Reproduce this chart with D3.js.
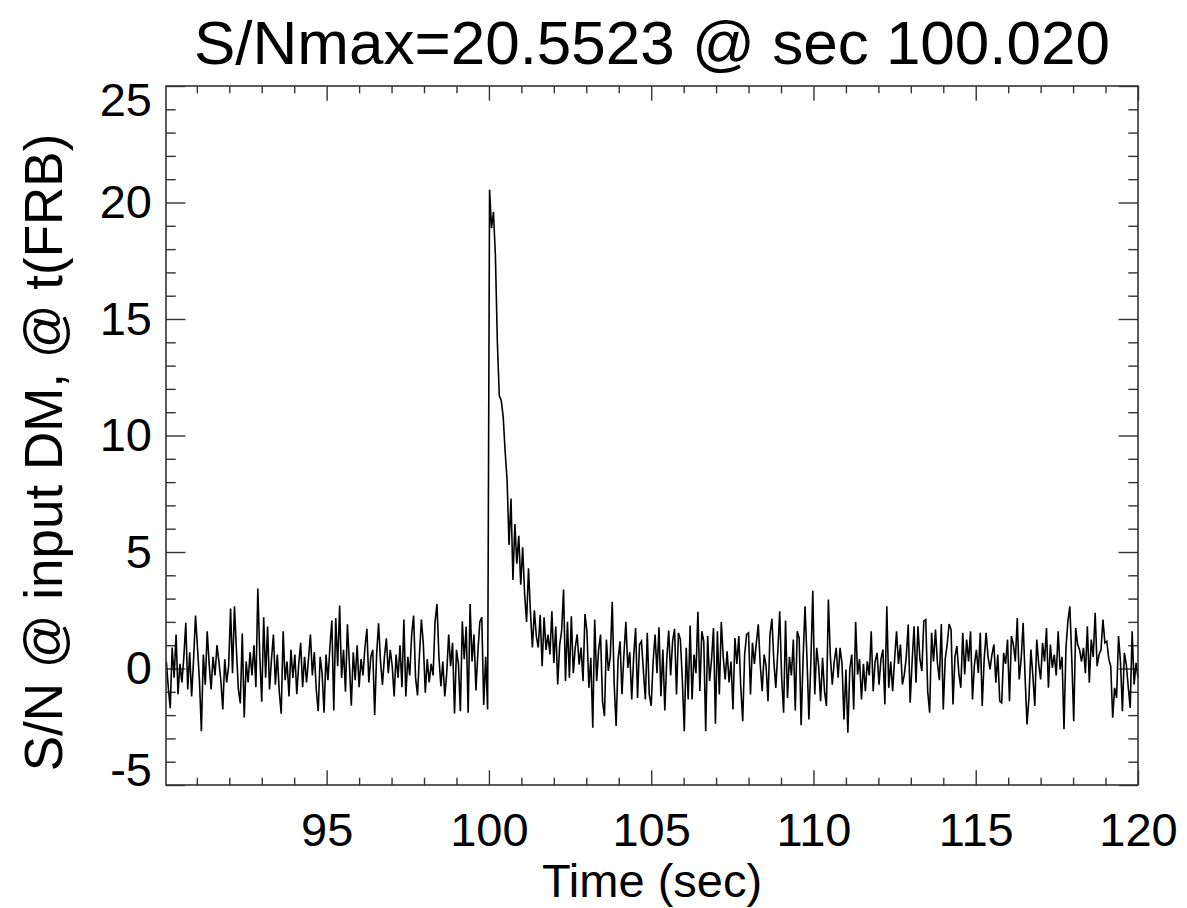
<!DOCTYPE html>
<html>
<head>
<meta charset="utf-8">
<script src="https://cdn.jsdelivr.net/npm/d3@7"></script>
<style>
  body { margin: 0; background: #fff; }
  svg { font-family: "Liberation Sans", Arial, Helvetica, sans-serif; }
</style>
</head>
<body>
<div id="plot"></div>
<script>
// Set up dimensions
const width = 1187;
const height = 908;
const margin = {top: 86, right: 49, bottom: 123, left: 166};

// Data: S/N time series, regular sampling
const t0 = 90.06;
const dt = 0.06;
const snr = [
  0.3, -0.8, -1.7, 0.9, -0.4, 1.46, -1.1, 0.2, -0.6, 0.5,
  1.96, -0.9, 0.7, -1.2, 0.4, 2.27, 0.9, -0.5, -2.69, 0.6,
  -0.7, 1.6, 0.2, -0.9, 0.5, -0.3, 1.0, 0.3, -0.5, -1.76,
  0.4, -0.6, 0.1, 2.57, -0.2, 2.67, 0.8, -0.9, -1.5, 1.5,
  -2.1, 0.3, -0.6, 0.7, -0.3, 1.0, -0.8, 3.43, 0.5, -1.43,
  2.2, -0.4, 1.8, -0.9, 0.4, 1.46, -0.7, 0.6, -1.0, -1.94,
  1.6, -0.5, 0.3, -1.2, 0.8, -0.4, 0.6, -1.1, 0.2, 1.1,
  -0.8, 0.5, -0.6, 0.4, 1.46, -0.3, 0.7, -0.9, -1.83, 0.5,
  -0.2, -1.9, 0.6, -0.5, 0.9, 2.06, -1.8, 2.17, 0.1, 2.7,
  -0.4, 0.8, -1.0, 1.9, 0.2, -1.6, 0.7, -0.5, 1.0, -0.8,
  0.4, -0.3, 0.9, 1.7, -0.6, 0.5, 0.8, -2.0, 0.6, 1.94,
  0.3, -0.7, 0.5, 1.3, -0.2, 0.8, 0.1, -1.2, 0.6, -0.4,
  1.0, -0.8, 2.1, -1.2, 0.5, -0.3, 1.46, 2.27, -0.4, -1.16,
  0.6, 2.1, 1.03, -1.04, 0.4, -0.6, 0.2, -0.3, 2.0, 2.77,
  0.5, -0.76, 0.3, -1.2, -0.2, 1.46, 0.1, 1.1, -1.93, 0.8,
  0.2, -1.83, 2.03, 0.4, 1.8, -1.9, 2.77, 0.3, 1.46, -0.94,
  0.7, 2.0, 2.2, -1.57, 0.5, -1.76, 20.5523, 18.9, 19.6, 17.7,
  14.0, 11.7, 11.5, 10.8, 9.3, 8.1, 5.3, 7.3, 3.8, 6.2,
  4.5, 5.7, 3.6, 5.2, 3.2, 2.0, 4.3, 2.4, 0.9, 2.5,
  1.4, 0.9, 2.3, 0.1, 2.2, 0.8, 1.46, 0.6, 2.46, 0.24,
  1.8, -0.69, 1.0, 1.6, 3.39, -0.54, 2.0, -0.4, 2.24, -0.2,
  0.9, 1.46, 0.17, 0.9, -0.54, 2.34, 1.6, -0.83, 0.46, -2.54,
  2.1, -0.54, 0.8, 1.46, -1.4, -2.04, 1.24, -0.1, 0.5, 2.86,
  -0.69, -2.47, 0.4, 1.17, -1.1, 0.6, 2.0, 0.03, 0.7, -1.33,
  0.5, 1.74, -1.26, 1.03, 1.17, -0.1, -1.33, 1.53, -1.1, -1.6,
  0.3, 1.46, -0.2, 1.77, -1.19, 0.81, -1.8, 0.4, 1.63, -0.3,
  1.17, 1.7, -1.11, 1.53, 1.24, -0.5, -2.69, 0.89, -1.33, 1.84,
  -1.33, 0.6, -0.2, 2.43, -0.97, 1.6, 1.17, -2.69, 1.39, -0.54,
  0.4, 1.74, -2.37, 1.6, -1.11, 2.0, 0.5, -0.47, 0.74, -0.6,
  0.3, -1.76, 1.31, 0.2, 1.39, -0.8, -2.26, 0.6, 1.46, 1.53,
  -1.11, 1.1, 0.2, 1.1, 1.9, 0.17, -0.97, 0.6, 0.1, -1.4,
  1.46, 2.13, 0.3, -0.83, 0.7, 2.46, -0.4, -1.9, 2.06, -1.26,
  0.5, -0.3, 1.24, -1.8, 1.6, 1.31, -2.43, 0.4, 2.67, 0.46,
  -2.19, 0.3, 3.34, -1.11, 0.89, 0.1, -1.4, 0.46, -0.97, -1.61,
  2.96, 0.53, -0.69, 0.3, 0.89, -0.4, 0.89, 0.2, -2.19, -0.04,
  -2.76, 0.0, 0.6, -1.76, 2.0, -0.26, 0.4, -1.33, 0.2, -0.97,
  0.31, -0.3, 1.6, -0.97, 0.3, 0.67, -0.69, 0.4, 0.81, -1.54,
  2.67, -0.83, 0.3, -0.97, 0.39, 1.6, 0.2, 1.03, -0.69, -0.26,
  0.5, 1.89, -1.47, 0.3, 1.81, -0.61, 1.81, 0.4, -0.11, 2.03,
  2.1, -0.97, -1.9, 1.53, 0.3, 1.67, 0.24, -0.5, 1.91, -1.76,
  0.4, 1.03, 1.91, 1.67, -1.54, 0.5, 0.96, -0.2, -0.83, 1.53,
  -0.26, 1.24, 0.3, 1.6, -1.33, 0.17, 0.8, -0.19, 1.53, -1.61,
  0.39, 1.53, 0.5, -0.04, 0.6, 1.03, -0.61, 0.6, -1.4, -1.47,
  0.67, 0.2, 1.24, -1.4, 1.39, 1.03, 0.3, 2.17, -0.47, 0.4,
  1.96, -0.33, -2.4, -1.26, 0.81, -0.3, -1.61, 1.24, 0.2, -0.47,
  1.1, 0.3, 1.74, -0.83, 1.03, 0.03, 0.6, -0.3, 1.6, -0.04,
  0.5, -2.61, 0.89, 2.03, 2.67, 0.4, -2.26, 1.74, 1.03, 0.81,
  0.3, 0.89, -0.2, 1.81, -0.61, 1.24, 0.5, 2.39, 0.1, 0.6,
  0.8, 2.1, 1.1, 1.17, 0.4, 0.1, -2.11, -0.83, -1.26, 1.39,
  0.3, -1.83, 0.67, 0.17, -0.8, -1.69, 1.6, -0.69, 0.24, -0.4
];

// Axis ticks and labels
const xDomain = [90.05, 120];
const yDomain = [-5, 25];
const xMajor = [95, 100, 105, 110, 115, 120];
const yMajor = [-5, 0, 5, 10, 15, 20, 25];
const titleText = "S/Nmax=20.5523 @ sec 100.020";
const xLabel = "Time (sec)";
const yLabel = "S/N @ input DM, @ t(FRB)";

const data = snr.map((v, i) => ({t: t0 + i * dt, v: v}));

const svg = d3.select("#plot")
  .append("svg")
  .attr("width", width)
  .attr("height", height);

const x = d3.scaleLinear()
  .domain(xDomain)
  .range([margin.left, width - margin.right]);

const y = d3.scaleLinear()
  .domain(yDomain)
  .range([height - margin.bottom, margin.top]);

const xMinor = d3.range(91, 120).filter(d => d % 5 !== 0);
const yMinor = d3.range(-4, 25).filter(d => d % 5 !== 0);

const axisColor = "#333";
const plotW = width - margin.left - margin.right;
const plotH = height - margin.top - margin.bottom;
const xTickLen = plotH * 0.021;
const yTickLen = plotW * 0.02;

function styleAxis(g) {
  g.select(".domain").remove();
  g.selectAll(".tick line").attr("stroke", axisColor).attr("stroke-width", 1.4);
  g.selectAll(".tick text").attr("fill", "#000").style("font-size", "47px");
}

// Bottom axis (labels) + minor ticks
svg.append("g")
  .attr("transform", `translate(0,${height - margin.bottom})`)
  .call(d3.axisBottom(x).tickValues(xMajor).tickSize(-xTickLen).tickPadding(28).tickFormat(d3.format("d")))
  .call(styleAxis);
svg.append("g")
  .attr("transform", `translate(0,${height - margin.bottom})`)
  .call(d3.axisBottom(x).tickValues(xMinor).tickSize(-xTickLen / 2).tickFormat(""))
  .call(styleAxis);

// Top axis mirror
svg.append("g")
  .attr("transform", `translate(0,${margin.top})`)
  .call(d3.axisTop(x).tickValues(xMajor).tickSize(-xTickLen).tickFormat(""))
  .call(styleAxis);
svg.append("g")
  .attr("transform", `translate(0,${margin.top})`)
  .call(d3.axisTop(x).tickValues(xMinor).tickSize(-xTickLen / 2).tickFormat(""))
  .call(styleAxis);

// Left axis (labels) + minor ticks
const yAxisG = svg.append("g")
  .attr("transform", `translate(${margin.left},0)`)
  .call(d3.axisLeft(y).tickValues(yMajor).tickSize(-yTickLen).tickPadding(14).tickFormat(d3.format("d")))
  .call(styleAxis);
// end labels sit inside the frame
yAxisG.selectAll(".tick text")
  .attr("dy", d => d === yDomain[1] ? "0.62em" : d === yDomain[0] ? "0.02em" : "0.32em")
  .text(d => d < 0 ? "-" + Math.abs(d) : d);
svg.append("g")
  .attr("transform", `translate(${margin.left},0)`)
  .call(d3.axisLeft(y).tickValues(yMinor).tickSize(-yTickLen / 2).tickFormat(""))
  .call(styleAxis);

// Right axis mirror
svg.append("g")
  .attr("transform", `translate(${width - margin.right},0)`)
  .call(d3.axisRight(y).tickValues(yMajor).tickSize(-yTickLen).tickFormat(""))
  .call(styleAxis);
svg.append("g")
  .attr("transform", `translate(${width - margin.right},0)`)
  .call(d3.axisRight(y).tickValues(yMinor).tickSize(-yTickLen / 2).tickFormat(""))
  .call(styleAxis);

// Series line
const line = d3.line()
  .x(d => x(d.t))
  .y(d => y(d.v));

svg.append("path")
  .datum(data)
  .attr("fill", "none")
  .attr("stroke", "#000")
  .attr("stroke-width", 1.6)
  .attr("stroke-linejoin", "miter")
  .attr("d", line);

// Frame
svg.append("rect")
  .attr("x", margin.left)
  .attr("y", margin.top)
  .attr("width", plotW)
  .attr("height", plotH)
  .attr("fill", "none")
  .attr("stroke", axisColor)
  .attr("stroke-width", 1.6);

// Title and axis labels
svg.append("text")
  .attr("x", margin.left + plotW / 2)
  .attr("y", 64)
  .attr("text-anchor", "middle")
  .style("font-size", "62px")
  .text(titleText);

svg.append("text")
  .attr("x", margin.left + plotW / 2)
  .attr("y", 897)
  .attr("text-anchor", "middle")
  .style("font-size", "47px")
  .text(xLabel);

svg.append("text")
  .attr("transform", `translate(62,${margin.top + plotH / 2 + 17}) rotate(-90)`)
  .attr("text-anchor", "middle")
  .style("font-size", "53px")
  .text(yLabel);
</script>
</body>
</html>
